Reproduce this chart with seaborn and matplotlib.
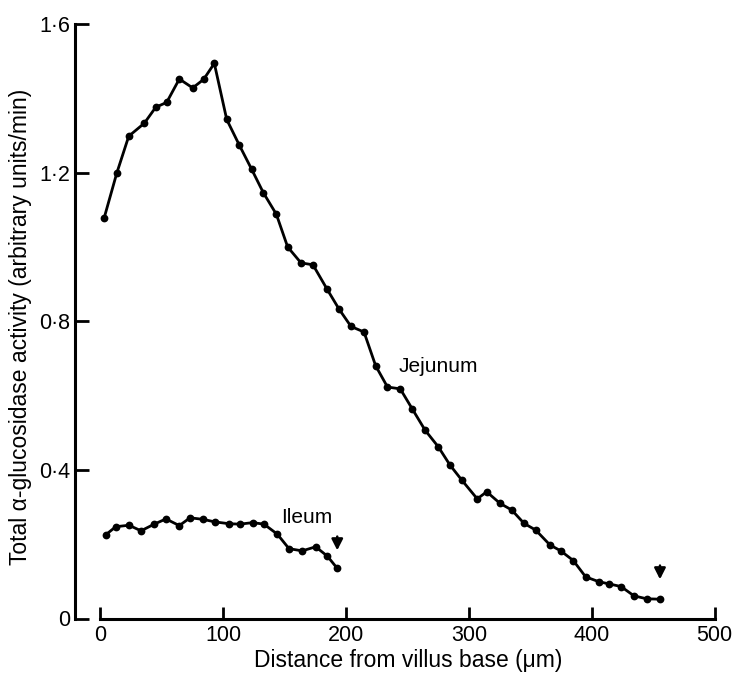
import numpy as np
import pandas as pd
import matplotlib
matplotlib.use("Agg")
import matplotlib.pyplot as plt
import seaborn as sns

# ---- data ----
jejunum_x = [2.9, 13.2, 23.0, 35.7, 45.0, 53.9, 64.2, 75.1, 84.0, 92.7,
             102.8, 112.9, 123.1, 132.6, 143.2, 152.4, 163.3, 173.0, 184.4, 194.2,
             204.0, 214.6, 224.1, 233.7, 244.1, 253.9, 264.3, 275.1, 284.6, 294.1,
             306.8, 314.5, 325.3, 334.9, 344.9, 354.4, 366.0, 374.8, 385.0, 395.1,
             405.9, 414.3, 423.9, 434.4, 444.8, 455.6]
jejunum_y = [1.077, 1.198, 1.298, 1.333, 1.376, 1.389, 1.452, 1.428, 1.451, 1.494,
             1.343, 1.275, 1.209, 1.146, 1.088, 1.000, 0.957, 0.952, 0.887, 0.833,
             0.786, 0.771, 0.680, 0.623, 0.618, 0.564, 0.507, 0.462, 0.413, 0.373,
             0.322, 0.341, 0.310, 0.292, 0.256, 0.238, 0.198, 0.182, 0.156, 0.112,
             0.099, 0.093, 0.086, 0.061, 0.053, 0.052]

ileum_x = [4.2, 12.4, 23.2, 33.0, 43.8, 53.3, 64.2, 72.9, 83.2, 93.2,
           104.9, 113.6, 123.9, 133.1, 144.0, 153.5, 164.3, 175.2, 184.7, 192.8]
ileum_y = [0.225, 0.247, 0.251, 0.236, 0.254, 0.268, 0.250, 0.271, 0.267, 0.260,
           0.255, 0.254, 0.258, 0.254, 0.227, 0.188, 0.182, 0.193, 0.168, 0.135]

segments = ["Jejunum", "Ileum"]
x_ticks = [0, 100, 200, 300, 400, 500]
y_ticks = [0, 0.4, 0.8, 1.2, 1.6]
y_tick_labels = ["0", "0\u00b74", "0\u00b78", "1\u00b72", "1\u00b76"]

df = pd.concat([
    pd.DataFrame({"x": jejunum_x, "y": jejunum_y, "segment": segments[0]}),
    pd.DataFrame({"x": ileum_x, "y": ileum_y, "segment": segments[1]}),
], ignore_index=True)

sns.set_theme(style="white")
plt.rcParams["font.family"] = ["Liberation Sans", "DejaVu Sans"]

fig = plt.figure(figsize=(7.40, 6.73), dpi=100)
ax = fig.add_axes([74.7 / 740, (673 - 618.5) / 673, 639.8 / 740, 594.5 / 673])

sns.lineplot(data=df, x="x", y="y", hue="segment", units="segment",
             estimator=None, sort=False, palette=["black", "black"],
             marker="o", markersize=5.6, markeredgewidth=0, linewidth=2.0,
             legend=False, ax=ax, clip_on=False)

ax.set_xlim(-21, 500)
ax.set_ylim(0, 1.6)
ax.spines["top"].set_visible(False)
ax.spines["right"].set_visible(False)
for s in ("left", "bottom"):
    ax.spines[s].set_linewidth(2.2)
    ax.spines[s].set_color("black")
ax.spines["bottom"].set_bounds(0, 500)

ax.set_xticks(x_ticks)
ax.set_xticklabels([str(v) for v in x_ticks])
ax.set_yticks(y_ticks)
ax.set_yticklabels(y_tick_labels)
ax.tick_params(axis="x", bottom=True, direction="in", length=9, width=2.0, pad=5,
               labelsize=15.5, colors="black")
ax.tick_params(axis="y", left=True, direction="in", length=10, width=2.0, pad=3,
               labelsize=15.5, colors="black")

ax.set_xlabel("Distance from villus base (\u03bcm)", fontsize=16.5, color="black")
ax.set_ylabel("Total \u03b1-glucosidase activity (arbitrary units/min)",
              fontsize=16.5, color="black")
ax.xaxis.set_label_coords((408 - 74.7) / 639.8, -0.052)
ax.yaxis.set_label_coords(-0.066, 0.49)

ax.text(242.6, 0.679, "Jejunum", fontsize=15, ha="left", va="center", color="black")
ax.text(146.7, 0.271, "Ileum", fontsize=15, ha="left", va="center", color="black")

arrow = dict(arrowstyle="-|>,head_length=0.55,head_width=0.28", color="black", lw=1.8)
ax.annotate("", xy=(192.8, 0.176), xytext=(192.8, 0.228), arrowprops=arrow,
            annotation_clip=False)
ax.annotate("", xy=(455.6, 0.098), xytext=(455.6, 0.150), arrowprops=arrow,
            annotation_clip=False)

ax.grid(False)
fig.savefig("out.png", dpi=100)
